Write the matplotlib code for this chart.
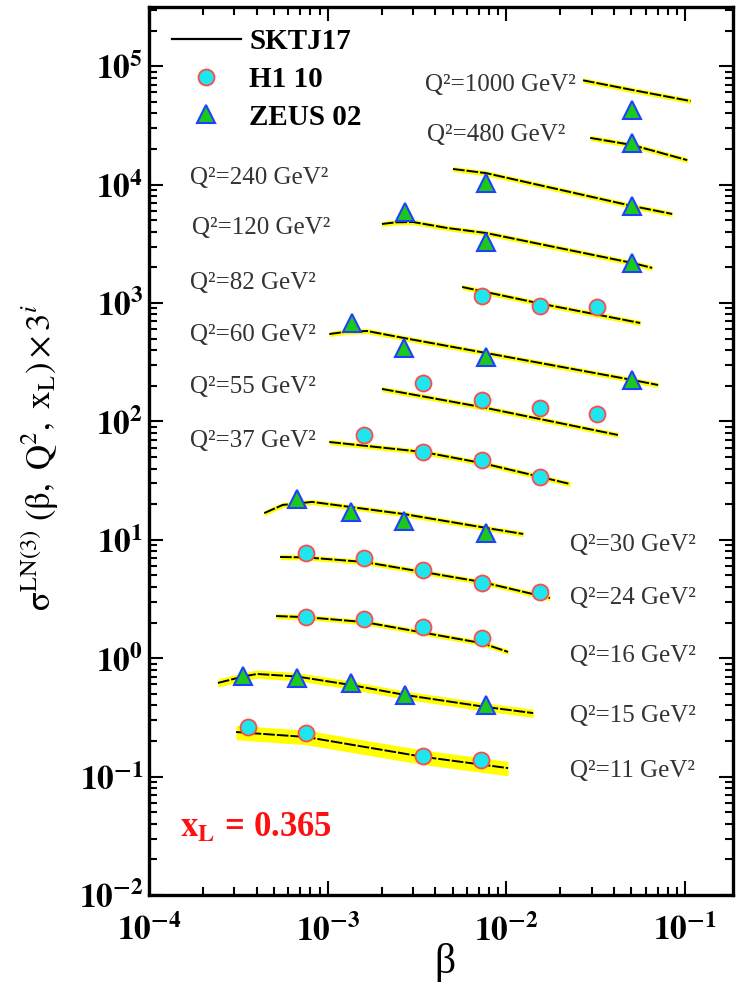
import matplotlib
matplotlib.use("Agg")
import matplotlib.pyplot as plt
import numpy as np
from matplotlib.lines import Line2D
from matplotlib.ticker import FixedLocator, FuncFormatter, NullFormatter
from matplotlib.font_manager import FontProperties

plt.rcParams['font.family'] = ['Liberation Serif', 'DejaVu Serif']
plt.rcParams['mathtext.fontset'] = 'stix'

# ---------------- data ----------------
q2_values = [1000, 480, 240, 120, 82, 60, 55, 37, 30, 24, 16, 15, 11]

curve_beta = [
    [0.0268, 0.0505, 0.107],
    [0.0294, 0.0505, 0.1026],
    [5.02e-3, 7.69e-3, 0.0505, 0.0845],
    [2.01e-3, 2.4e-3, 3.0e-3, 4.66e-3, 7.69e-3, 0.0505, 0.0653],
    [5.65e-3, 0.0154, 0.056],
    [1.02e-3, 1.25e-3, 1.66e-3, 2.67e-3, 7.69e-3, 0.0505, 0.0705],
    [2.01e-3, 7.29e-3, 0.042],
    [1.02e-3, 3.41e-3, 7.29e-3, 0.0227],
    [4.41e-4, 5.6e-4, 8.17e-4, 1.35e-3, 2.67e-3, 7.69e-3, 0.0124],
    [5.41e-4, 7.57e-4, 1.6e-3, 7.29e-3, 0.0175],
    [5.14e-4, 7.57e-4, 1.6e-3, 7.29e-3, 0.0102],
    [2.43e-4, 3.36e-4, 4.02e-4, 6.73e-4, 1.35e-3, 2.71e-3, 7.69e-3, 0.0141],
    [3.07e-4, 7.57e-4, 3.41e-3, 0.0102],
]
curve_sigma = [
    [7.6e4, 6.3e4, 5.08e4],
    [2.48e4, 2.16e4, 1.61e4],
    [1.355e4, 1.25e4, 6.6e3, 5.65e3],
    [4.65e3, 4.8e3, 4.83e3, 4.3e3, 3.9e3, 2.18e3, 1.98e3],
    [1365, 990, 678],
    [547, 570, 580, 506, 378, 224, 203],
    [188, 132, 76.8],
    [67, 55.2, 44.5, 29.6],
    [16.8, 19.7, 20.9, 18.9, 16.5, 12.6, 11.2],
    [7.16, 7.1, 6.5, 4.4, 3.22],
    [2.27, 2.22, 2.02, 1.34, 1.13],
    [0.618, 0.70, 0.736, 0.70, 0.594, 0.489, 0.387, 0.344],
    [0.238, 0.216, 0.147, 0.118],
]
band_rel = [0.05, 0.05, 0.05, 0.05, 0.05, 0.05, 0.05, 0.05, 0.05, 0.05, 0.05, 0.08, 0.14]

h1_beta = [
    [], [], [], [],
    [7.29e-3, 0.0154, 0.0321],
    [],
    [3.41e-3, 7.29e-3, 0.0154, 0.0321],
    [1.6e-3, 3.41e-3, 7.29e-3, 0.0154],
    [],
    [7.57e-4, 1.6e-3, 3.41e-3, 7.29e-3, 0.0154],
    [7.57e-4, 1.6e-3, 3.41e-3, 7.29e-3],
    [],
    [3.58e-4, 7.57e-4, 3.41e-3, 7.2e-3],
]
h1_sigma = [
    [], [], [], [],
    [1146, 944, 925],
    [],
    [211, 152, 130, 115],
    [76.8, 55.2, 47.2, 33.9],
    [],
    [7.74, 7.02, 5.56, 4.32, 3.62],
    [2.23, 2.14, 1.84, 1.48],
    [],
    [0.262, 0.233, 0.149, 0.138],
]
zeus_beta = [
    [0.0505],
    [0.0505],
    [7.69e-3, 0.0505],
    [2.71e-3, 7.69e-3, 0.0505],
    [],
    [1.37e-3, 2.67e-3, 7.69e-3, 0.0505],
    [], [],
    [6.73e-4, 1.35e-3, 2.67e-3, 7.69e-3],
    [], [],
    [3.36e-4, 6.73e-4, 1.35e-3, 2.71e-3, 7.69e-3],
    [],
]
zeus_sigma = [
    [4.27e4],
    [2.25e4],
    [1.03e4, 6.6e3],
    [5.87e3, 3.27e3, 2.18e3],
    [],
    [678, 417, 350, 224],
    [], [],
    [22.1, 17.2, 14.4, 11.4],
    [], [],
    [0.708, 0.681, 0.618, 0.489, 0.402],
    [],
]

x_decades = [-4, -3, -2, -1]
y_decades = [-2, -1, 0, 1, 2, 3, 4, 5]

# label positions (pixel layout: left x, centre y)
label_px = [(425, 85), (427, 135), (190, 178), (192, 228), (190, 283),
            (190, 335), (190, 387), (190, 441), (570, 545), (570, 598),
            (570, 656), (570, 716), (570, 771)]

# ---------------- figure ----------------
W, H = 737, 994
fig = plt.figure(figsize=(W / 100, H / 100), dpi=100)
L, R, B, T = 149, 733, 895, 7
ax = fig.add_axes([L / W, (H - B) / H, (R - L) / W, (B - T) / H])
ax.set_xscale('log')
ax.set_yscale('log')
ax.set_xlim(1e-4, 0.185)
ax.set_ylim(1e-2, 10 ** 5.5)

yellow = '#FFFF00'
for cb, cs, rel in zip(curve_beta, curve_sigma, band_rel):
    cb = np.array(cb); cs = np.array(cs)
    ax.fill_between(cb, cs * (1 - rel), cs * (1 + rel), color=yellow, lw=0, zorder=2)
    ax.plot(cb, cs, color='black', lw=1.4, dashes=(6, 1), zorder=3)

for hb, hs in zip(h1_beta, h1_sigma):
    if hb:
        ax.plot(hb, hs, ls='none', marker='o', ms=11.5, mfc='#1EE6EE',
                mec='#FF4A4A', mew=1.3, zorder=5)
for zb, zs in zip(zeus_beta, zeus_sigma):
    if zb:
        ax.plot(zb, zs, ls='none', marker='^', ms=12.5, mfc='#1CC81C',
                mec='#2040FF', mew=1.5, zorder=5)

for q2, (px, py) in zip(q2_values, label_px):
    ax.text((px - L) / (R - L), (B - py) / (B - T), f'Q²={q2} GeV²',
            transform=ax.transAxes, ha='left', va='center', fontsize=18,
            color='#333333')

# axes styling
for s in ax.spines.values():
    s.set_linewidth(2.4)
xmaj = [10.0 ** d for d in x_decades]
ymaj = [10.0 ** d for d in y_decades]
xmin = [m * 10.0 ** d for d in x_decades for m in range(2, 10) if m * 10.0 ** d < 0.185]
ymin = [m * 10.0 ** d for d in y_decades for m in range(2, 10) if m * 10.0 ** d < 10 ** 5.5]
ax.xaxis.set_major_locator(FixedLocator(xmaj))
ax.yaxis.set_major_locator(FixedLocator(ymaj))
ax.xaxis.set_minor_locator(FixedLocator(xmin))
ax.yaxis.set_minor_locator(FixedLocator(ymin))
fmt = FuncFormatter(lambda v, p: r'$\mathbf{10^{%d}}$' % int(round(np.log10(v))))
ax.xaxis.set_major_formatter(fmt)
ax.yaxis.set_major_formatter(fmt)
ax.xaxis.set_minor_formatter(NullFormatter())
ax.yaxis.set_minor_formatter(NullFormatter())
ax.tick_params(which='both', direction='in', top=True, right=True, width=1.5)
ax.tick_params(which='minor', labelbottom=False, labelleft=False, length=5.5)
ax.tick_params(which='major', length=10, labelsize=24)
ax.tick_params(axis='x', which='major', pad=14)
ax.tick_params(axis='y', which='major', pad=4)

# axis labels
fig.text(445 / W, 1 - 963 / H, 'β', ha='center', va='center', fontsize=30)
ylab = (r'$\mathrm{σ}^{\mathrm{LN(3)}}\ (\mathrm{β},\ \mathrm{Q}^{2},\ '
        r'\mathrm{x}_{\mathrm{L}})\times 3^{i}$')
fig.text(40 / W, 1 - 457 / H, ylab,
         ha='center', va='center', rotation=90, fontsize=25)

# x_L annotation
ax.text((180 - L) / (R - L), (B - 828) / (B - T), r'$\mathbf{x_{L}}$ = 0.365',
        transform=ax.transAxes, ha='left', va='center', fontsize=25,
        fontweight='bold', color='#FF1010')

# legend
handles = [Line2D([], [], color='black', lw=1.6),
           Line2D([], [], ls='none', marker='o', ms=11.5, mfc='#1EE6EE', mec='#FF4A4A', mew=1.3),
           Line2D([], [], ls='none', marker='^', ms=12.5, mfc='#1CC81C', mec='#2040FF', mew=1.5)]
ax.legend(handles, ['SKTJ17', 'H1 10', 'ZEUS 02'], loc='upper left',
          bbox_to_anchor=((172 - L) / (R - L), (B - 28) / (B - T)),
          prop=FontProperties(family='Liberation Serif', weight='bold', size=21),
          handlelength=2.35, handletextpad=0.3, labelspacing=0.37,
          frameon=False, borderaxespad=0, borderpad=0)

fig.savefig('out.png', dpi=100)
